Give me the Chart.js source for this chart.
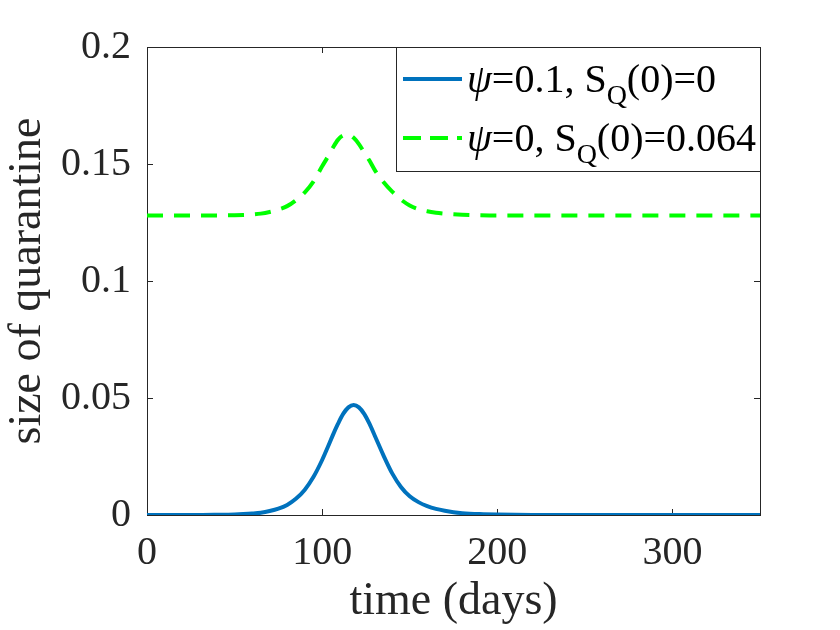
<!DOCTYPE html>
<html>
<head>
<meta charset="utf-8">
<script src="https://cdn.jsdelivr.net/npm/chart.js@4.4.1/dist/chart.umd.min.js"></script>
<style>
  html, body { margin:0; padding:0; background:#fff; }
  #wrap { width:840px; height:630px; }
</style>
</head>
<body>
<div id="wrap"><canvas id="chart" width="840" height="630"></canvas></div>
<script>
// data
const days = [0,10,20,30,40,50,55,60,65,70,75,80,85,90,95,100,103,106,109,112,115,118,121,124,127,130,135,140,145,150,155,160,165,170,175,180,190,200,220,250,300,350];
const withPsi = [0,0,0,0,0.00009,0.00024,0.0004,0.00064,0.001,0.0017,0.0027,0.0043,0.0069,0.0107,0.0162,0.0235,0.0286,0.0339,0.0389,0.0432,0.046,0.047,0.046,0.0432,0.039,0.034,0.0255,0.0178,0.012,0.008,0.0055,0.0038,0.0026,0.0018,0.0012,0.0008,0.0004,0.0002,0.00005,0,0,0];
const noPsi = [0.128,0.128,0.128,0.128,0.128,0.1281,0.1282,0.1284,0.1288,0.1295,0.1305,0.132,0.1345,0.1378,0.1425,0.149,0.1528,0.1568,0.1603,0.1622,0.1625,0.1612,0.1585,0.155,0.1515,0.1475,0.1423,0.1382,0.1348,0.1323,0.1307,0.1298,0.1292,0.1288,0.1285,0.1283,0.1281,0.128,0.128,0.128,0.128,0.128];
const xTicks = [0,100,200,300];
const yTicks = [0,0.05,0.1,0.15,0.2];

const BLUE = '#0072BD';
const GREEN = '#00FF00';
const INK = '#262626';
const FONT = '"Liberation Serif", "DejaVu Serif", serif';

// legend entries: parts of the label, 'sub' for the subscript
const legendRows = [
  { color: BLUE, dash: [], parts: [['ψ','it'], ['=0.1, S',''], ['Q','sub'], ['(0)=0','']] },
  { color: GREEN, dash: [18,9], parts: [['ψ','it'], ['=0, S',''], ['Q','sub'], ['(0)=0.064','']] }
];

// box and inward ticks on all four sides, drawn under the lines
const framePlugin = {
  id: 'frame',
  beforeDatasetsDraw(chart) {
    const { ctx, chartArea: a, scales: { x, y } } = chart;
    ctx.save();
    ctx.strokeStyle = INK;
    ctx.lineWidth = 1;
    ctx.beginPath();
    xTicks.forEach(v => {
      const px = Math.round(x.getPixelForValue(v)) + 0.5;
      ctx.moveTo(px, a.bottom); ctx.lineTo(px, a.bottom - 6);
      ctx.moveTo(px, a.top); ctx.lineTo(px, a.top + 6);
    });
    yTicks.forEach(v => {
      const py = Math.round(y.getPixelForValue(v)) + 0.5;
      ctx.moveTo(a.left, py); ctx.lineTo(a.left + 6, py);
      ctx.moveTo(a.right, py); ctx.lineTo(a.right - 6, py);
    });
    ctx.stroke();
    ctx.strokeRect(Math.round(a.left) + 0.5, Math.round(a.top) + 0.5, Math.round(a.right - a.left), Math.round(a.bottom - a.top));
    ctx.restore();
  }
};

const legendPlugin = {
  id: 'texLegend',
  afterDatasetsDraw(chart) {
    const { ctx, chartArea: a } = chart;
    const box = { l: 396, t: a.top, r: a.right, b: 171 };
    ctx.save();
    ctx.fillStyle = '#fff';
    ctx.fillRect(box.l, box.t, box.r - box.l, box.b - box.t);
    ctx.strokeStyle = INK;
    ctx.lineWidth = 1;
    ctx.strokeRect(box.l + 0.5, box.t + 0.5, box.r - box.l, box.b - box.t);
    const rowY = [79, 138];
    legendRows.forEach((row, i) => {
      const cy = rowY[i];
      ctx.strokeStyle = row.color;
      ctx.lineWidth = 4;
      ctx.setLineDash(row.dash);
      ctx.beginPath();
      ctx.moveTo(403, cy); ctx.lineTo(462, cy);
      ctx.stroke();
      ctx.setLineDash([]);
      let tx = 467;
      const base = cy + 13;
      ctx.fillStyle = '#000';
      ctx.textBaseline = 'alphabetic';
      ctx.textAlign = 'left';
      row.parts.forEach(([t, kind]) => {
        if (kind === 'it') ctx.font = 'italic 40px ' + FONT;
        else if (kind === 'sub') ctx.font = '28px ' + FONT;
        else ctx.font = '40px ' + FONT;
        const by = kind === 'sub' ? base + 12 : base;
        ctx.fillText(t, tx, by);
        tx += ctx.measureText(t).width;
      });
    });
    ctx.restore();
  }
};

new Chart(document.getElementById('chart').getContext('2d'), {
  type: 'line',
  data: {
    labels: days,
    datasets: [
      { data: withPsi, borderColor: BLUE, borderWidth: 4, pointRadius: 0, cubicInterpolationMode: 'monotone', fill: false },
      { data: noPsi, borderColor: GREEN, borderWidth: 4, borderDash: [16,11], pointRadius: 0, cubicInterpolationMode: 'monotone', fill: false }
    ]
  },
  options: {
    responsive: false,
    animation: false,
    devicePixelRatio: 1,
    layout: { padding: { top: 47, right: 80, left: 0, bottom: 0 } },
    plugins: { legend: { display: false }, tooltip: { enabled: false } },
    scales: {
      x: {
        type: 'linear', min: 0, max: 350,
        afterBuildTicks: s => { s.ticks = xTicks.map(v => ({ value: v })); },
        afterFit: s => { s.height = 115; },
        grid: { display: false, drawTicks: false },
        border: { display: false },
        ticks: { color: INK, padding: 14, maxRotation: 0, font: { family: FONT, size: 40 } },
        title: { display: true, text: 'time (days)', color: INK, padding: { top: 0, bottom: 0 }, font: { family: FONT, size: 46 } }
      },
      y: {
        type: 'linear', min: 0, max: 0.2,
        afterBuildTicks: s => { s.ticks = yTicks.map(v => ({ value: v })); },
        afterFit: s => { s.width = 147; },
        grid: { display: false, drawTicks: false },
        border: { display: false },
        ticks: { color: INK, padding: 16, callback: v => String(v), font: { family: FONT, size: 40 } },
        title: { display: true, text: 'size of quarantine', color: INK, padding: { top: 0, bottom: 0 }, font: { family: FONT, size: 46 } }
      }
    }
  },
  plugins: [framePlugin, legendPlugin]
});
</script>
</body>
</html>
